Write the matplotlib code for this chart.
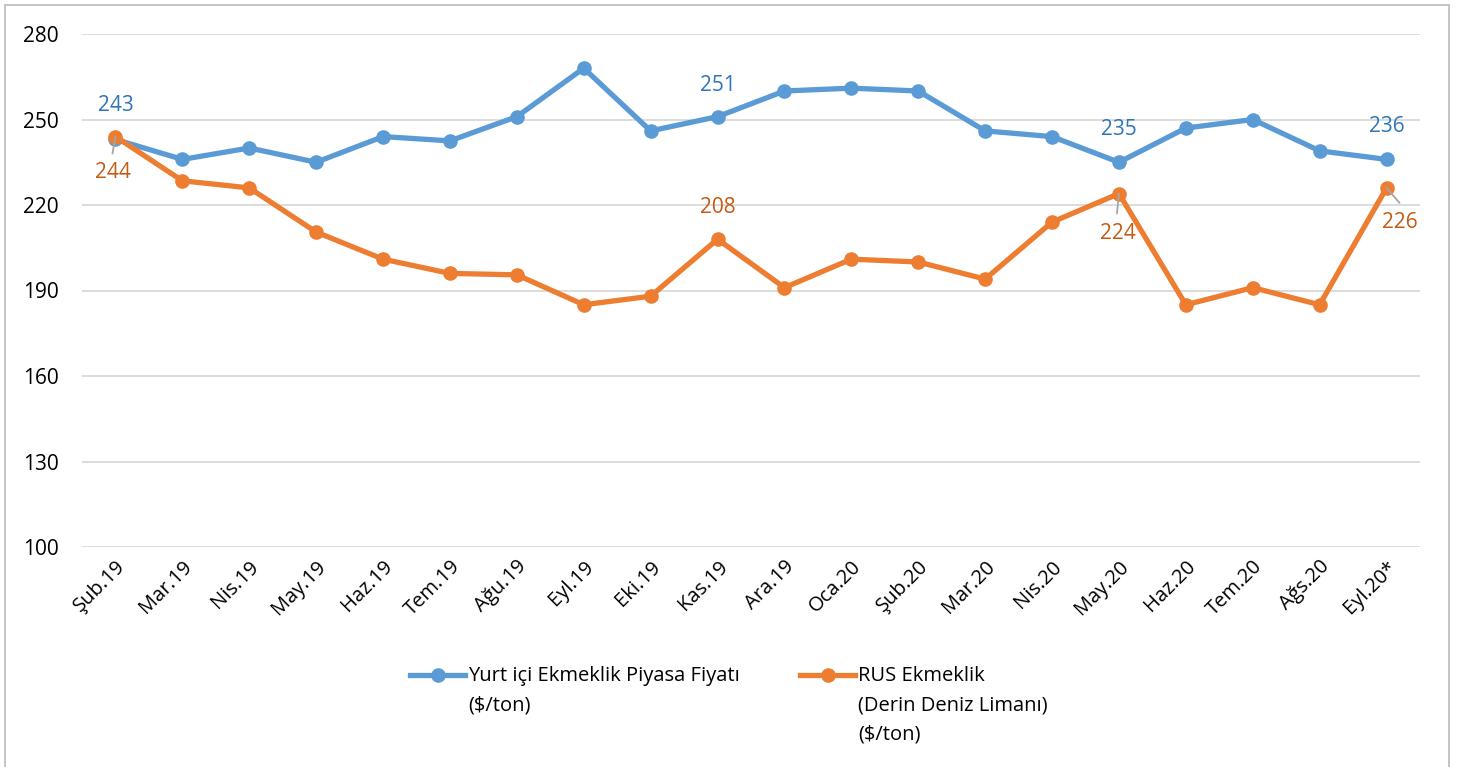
import matplotlib
matplotlib.use("Agg")
import matplotlib.pyplot as plt
from matplotlib.patches import Rectangle
from matplotlib.lines import Line2D

plt.rcParams['font.family'] = ['Open Sans', 'DejaVu Sans']

months = ["Şub.19", "Mar.19", "Nis.19", "May.19", "Haz.19", "Tem.19", "Ağu.19",
          "Eyl.19", "Eki.19", "Kas.19", "Ara.19", "Oca.20", "Şub.20", "Mar.20",
          "Nis.20", "May.20", "Haz.20", "Tem.20", "Ağs.20", "Eyl.20*"]
domestic = [243, 236, 240, 235, 244, 242.5, 251, 268, 246, 251, 260, 261, 260,
            246, 244, 235, 247, 250, 239, 236]
russia = [244, 228.5, 226, 210.5, 201, 196, 195.5, 185, 188, 208, 191, 201, 200,
          194, 214, 224, 185, 191, 185, 226]
yticks = [100, 130, 160, 190, 220, 250, 280]
series_names = ["Yurt içi Ekmeklik Piyasa Fiyatı\n($/ton)",
                "RUS Ekmeklik\n(Derin Deniz Limanı)\n($/ton)"]

blue = "#5B9BD5"
orange = "#ED7D31"
blue_txt = "#2E75B6"
orange_txt = "#C55A11"

W, H = 1459, 767
fig = plt.figure(figsize=(W/100, H/100), dpi=100)
ax = fig.add_axes([82/W, 1-547/H, (1420-82)/W, (547-34)/H])

x = list(range(len(months)))
ax.plot(x, domestic, color=blue, lw=3.8, marker='o', ms=9.5, zorder=3)
ax.plot(x, russia, color=orange, lw=3.8, marker='o', ms=9.5, zorder=4)

ax.set_xlim(-0.5, len(months) - 0.5)
ax.set_ylim(100, 280)
ax.set_yticks(yticks)
ax.set_xticks(x)
ax.set_xticklabels(months, rotation=45, ha='right', rotation_mode='anchor', fontsize=14.5)
ax.tick_params(axis='y', labelsize=15, length=0, pad=17)
ax.tick_params(axis='x', length=0, pad=7)
ax.yaxis.grid(True, color='#D9D9D9', lw=1.3)
ax.set_axisbelow(True)
for s in ax.spines.values():
    s.set_visible(False)

# data labels (offsets in pixels)
def lab(i, series, dx, dy, color, leader=None):
    v = series[i]
    txt = str(int(round(v)))
    ax.annotate(txt, (i, v), xytext=(dx, dy), textcoords='offset pixels',
                ha='center', va='center', fontsize=15, color=color, zorder=6)
    if leader is not None:
        ax.annotate("", xy=(i, v), xytext=leader, textcoords='offset pixels',
                    arrowprops=dict(arrowstyle='-', color='#A6A6A6', lw=1.3,
                                    shrinkA=0, shrinkB=0), zorder=5)

lab(0, domestic, 0, 34, blue_txt)
lab(0, russia, -3, -36, orange_txt, leader=(-3, -17))
lab(9, domestic, 0, 31, blue_txt)
lab(9, russia, 0, 32, orange_txt)
lab(15, domestic, 0, 33, blue_txt)
lab(15, russia, -1, -40, orange_txt, leader=(-2, -20))
lab(19, domestic, 0, 33, blue_txt)
lab(19, russia, 13, -35, orange_txt, leader=(13, -15))

# legend drawn manually (handle aligned with first text line)
def leg_item(x0, y0, color, text):
    fig.add_artist(Line2D([x0/W, (x0+55)/W], [1-y0/H, 1-y0/H], color=color, lw=3.8,
                          transform=fig.transFigure))
    fig.add_artist(Line2D([(x0+27.5)/W], [1-y0/H], color=color, marker='o', ms=9.5,
                          transform=fig.transFigure))
    fig.text((x0+58)/W, 1-(y0-9)/H, text, ha='left', va='top', fontsize=14.5,
             linespacing=1.62, color='black')

leg_item(410, 675, blue, series_names[0])
leg_item(800, 675, orange, series_names[1])

fig.patches.append(Rectangle((5/W, -0.01), 1444/W, 1-5/H + 0.01,
                             transform=fig.transFigure, fill=False,
                             edgecolor='#BFBFBF', lw=1.3))

fig.savefig("out.png", dpi=100)
